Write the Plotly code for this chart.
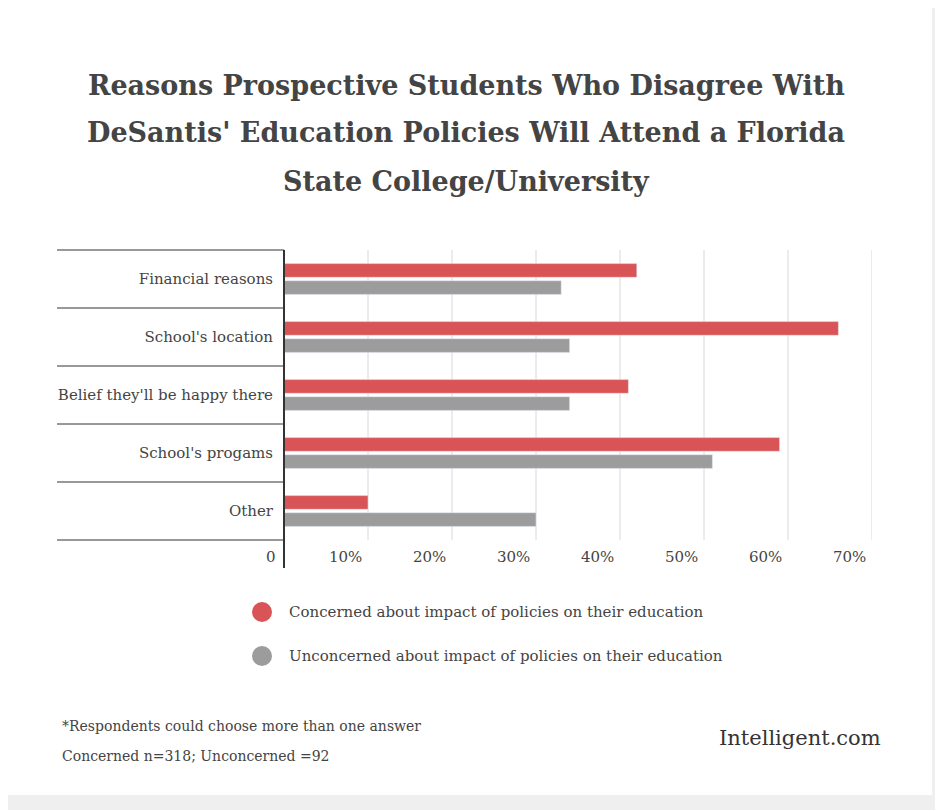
import plotly.graph_objects as go

categories = ["Financial reasons", "School's location", "Belief they'll be happy there",
              "School's progams", "Other"]
concerned = [42, 66, 41, 59, 10]
unconcerned = [33, 34, 34, 51, 30]
tick_vals = [0, 10, 20, 30, 40, 50, 60, 70]
tick_text = ["0", "10%", "20%", "30%", "40%", "50%", "60%", "70%"]
title_lines = ["Reasons Prospective Students Who Disagree With",
               "DeSantis' Education Policies Will Attend a Florida",
               "State College/University"]

RED = "#d95456"
GRAY = "#9c9c9c"
TXT = "#444444"
FONT = "DejaVu Serif"

W, H = 943, 810
O = 8  # page body offset
L, R, T, B = 284 - O, 872 - O, 250 - O, 540 - O


def px(x):
    return (x - O - L) / (R - L)


def py(y):
    return (B - (y - O)) / (B - T)


fig = go.Figure()
fig.add_trace(go.Bar(y=categories, x=concerned, orientation="h", marker_color=RED,
                     name="Concerned about impact of policies on their education"))
fig.add_trace(go.Bar(y=categories, x=unconcerned, orientation="h", marker_color=GRAY,
                     name="Unconcerned about impact of policies on their education"))

shapes = [dict(type="rect", xref="paper", yref="paper", x0=px(8), x1=px(932),
               y0=py(795), y1=py(8), fillcolor="white", line_width=0, layer="below")]
for i in range(6):
    yy = 250 + i * 58
    shapes.append(dict(type="line", xref="paper", yref="paper", x0=px(57), x1=0,
                       y0=py(yy), y1=py(yy), line=dict(color="#333", width=1)))
for v in tick_vals[1:]:
    shapes.append(dict(type="line", xref="x", yref="paper", x0=v, x1=v, y0=0, y1=1,
                       line=dict(color="#d8d8d8", width=1), layer="below"))
shapes.append(dict(type="line", xref="paper", yref="paper", x0=0, x1=0, y0=py(568), y1=1,
                   line=dict(color="#333", width=2)))
for yy, c in [(612, RED), (656, GRAY)]:
    shapes.append(dict(type="circle", xref="paper", yref="paper", x0=px(252), x1=px(272),
                       y0=py(yy + 10), y1=py(yy - 10), fillcolor=c, line_width=0))


def note(x, y, text, size, anchor="left", color=TXT, xref="paper", xshift=0):
    return dict(x=x, y=py(y), xref=xref, yref="paper", xanchor=anchor, yanchor="middle",
                text=text, showarrow=False, xshift=xshift, font=dict(size=size, color=color))


ann = []
for v, t in zip(tick_vals, tick_text):
    ann.append(note(v, 557, t, 15, "right", xref="x", xshift=-4 if v else -6))
ann.append(note(px(287), 612, "Concerned about impact of policies on their education", 15))
ann.append(note(px(287), 656, "Unconcerned about impact of policies on their education", 15))
ann.append(note(px(60), 726, "*Respondents could choose more than one answer", 14))
ann.append(note(px(60), 756, "Concerned n=318; Unconcerned =92", 14))
ann.append(note(px(883), 738, "Intelligent.com", 21, "right", color="#333"))
for i, line in enumerate(title_lines):
    ann.append(note(px(466), 85 + 48 * i, "<b>" + line + "</b>", 27, "center"))

fig.update_layout(
    width=W, height=H, margin=dict(l=L, r=W - R, t=T, b=H - B),
    paper_bgcolor="#efefef", plot_bgcolor="white",
    font=dict(family=FONT, color=TXT, size=15),
    barmode="group", bargap=0.41, bargroupgap=0.2, showlegend=False,
    shapes=shapes, annotations=ann,
    xaxis=dict(range=[0, 70], showgrid=False, showticklabels=False, zeroline=False),
    yaxis=dict(autorange="reversed", showgrid=False, ticks="",
               tickfont=dict(size=15, color=TXT), ticklabelstandoff=10),
)
fig.write_html("out.html")
